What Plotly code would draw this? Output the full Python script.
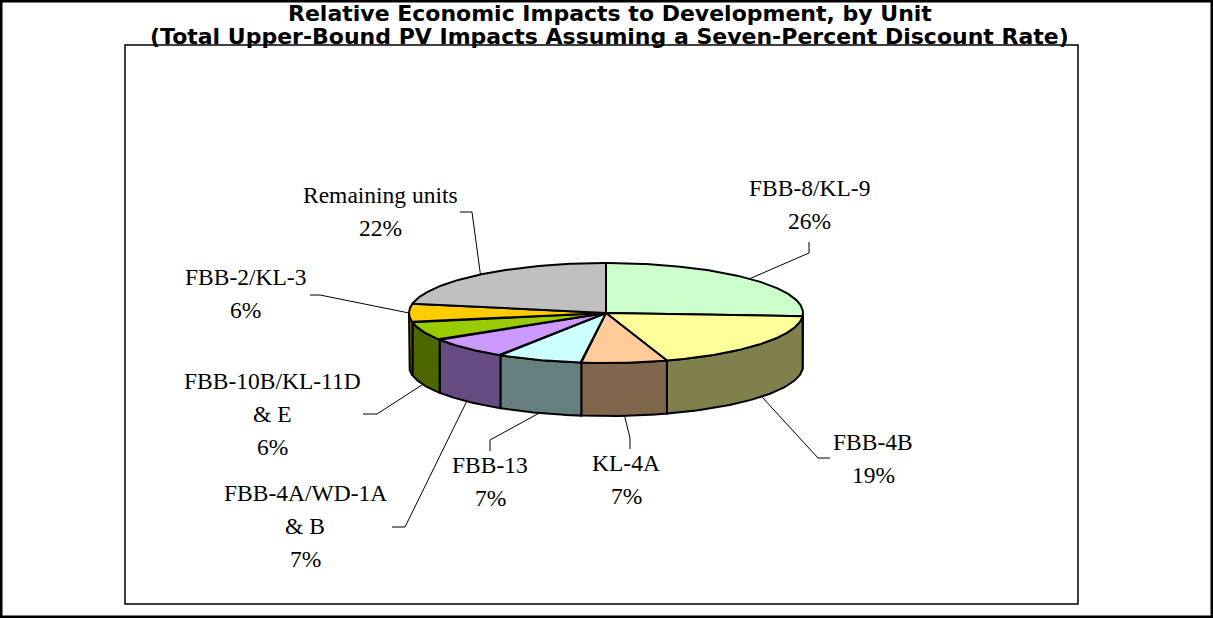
import numpy as np
import plotly.graph_objects as go

# ---------------- data ----------------
units = ["FBB-8/KL-9", "FBB-4B", "KL-4A", "FBB-13", "FBB-4A/WD-1A & B",
         "FBB-10B/KL-11D & E", "FBB-2/KL-3", "Remaining units"]
shares = [26, 19, 7, 7, 7, 6, 6, 22]          # percent of total PV impacts
top_colors = ["#CCFFCC", "#FFFF99", "#FFCC99", "#CCFFFF", "#CC99FF",
              "#99CC00", "#FFCC00", "#C0C0C0"]
side_colors = ["#668066", "#80804C", "#80664C", "#668080", "#664C80",
               "#4C6600", "#806600", "#606060"]
title_lines = ["Relative Economic Impacts to Development, by Unit",
               "(Total Upper-Bound PV Impacts Assuming a Seven-Percent Discount Rate)"]

# ---------------- layout / geometry (pixels) ----------------
W, H = 1213, 618
CX, CY, RA, RB, DEPTH = 606, 313, 197, 50, 53
START = 90.0   # first slice starts at 12 o'clock, clockwise
# label centre x, first-line y, elbow point, end point of leader
label_layout = [
    dict(x=809, y=188, ex=809, ey=253, tx=809, ty=242),
    dict(x=873, y=442, ex=818, ey=458, tx=830, ty=458),
    dict(x=626, y=463, ex=630, ey=438, tx=630, ty=449),
    dict(x=490, y=465, ex=490, ey=440, tx=490, ty=451),
    dict(x=305, y=493, ex=405, ey=527, tx=392, ty=527),
    dict(x=272, y=381, ex=377, ey=414, tx=363, ty=414),
    dict(x=245, y=277, ex=320, ey=295, tx=310, ty=295),
    dict(x=380, y=195, ex=472, ey=212, tx=460, ty=212),
]
LINE_GAP = 33
LABEL_FONT = dict(family="Liberation Serif, Times New Roman, serif", size=23.5, color="black")
TITLE_FONT = dict(family="DejaVu Sans, Arial, sans-serif", size=22, color="black", weight="bold")


def ell(theta_deg, drop=0.0):
    t = np.radians(theta_deg)
    return CX + RA * np.cos(t), CY - RB * np.sin(t) + drop


fig = go.Figure()

total = float(sum(shares))
bounds = []
a = START
for v in shares:
    b = a - 360.0 * v / total
    bounds.append((a, b))
    a = b

# side walls (front half: angles between -180 and 0)
for (s, e), col in zip(bounds, side_colors):
    hi, lo = min(s, 0.0), max(e, -180.0)
    if hi <= lo:
        continue
    th = np.linspace(hi, lo, 60)
    xt, yt = ell(th)
    xb, yb = ell(th[::-1], DEPTH)
    xs = np.concatenate([xt, xb, xt[:1]])
    ys = np.concatenate([yt, yb, yt[:1]])
    fig.add_trace(go.Scatter(x=xs, y=ys, mode="lines", fill="toself",
                             fillcolor=col, line=dict(color="black", width=2),
                             hoverinfo="skip", showlegend=False))

# top faces
for (s, e), col in zip(bounds, top_colors):
    th = np.linspace(s, e, 120)
    xa, ya = ell(th)
    xs = np.concatenate([[CX], xa, [CX]])
    ys = np.concatenate([[CY], ya, [CY]])
    fig.add_trace(go.Scatter(x=xs, y=ys, mode="lines", fill="toself",
                             fillcolor=col, line=dict(color="black", width=2),
                             hoverinfo="skip", showlegend=False))

# labels and leader lines
annotations = []
for name, v, (s, e), lay in zip(units, shares, bounds, label_layout):
    mid = (s + e) / 2.0
    m = ((mid + 180) % 360) - 180
    drop = DEPTH if (-180 < m < 0) else 0.0
    x0, y0 = ell(mid, drop)
    fig.add_trace(go.Scatter(x=[x0, lay["ex"], lay["tx"]], y=[y0, lay["ey"], lay["ty"]],
                             mode="lines", line=dict(color="black", width=1),
                             hoverinfo="skip", showlegend=False))
    parts = name.split(" & ")
    lines = [parts[0]] + ["& " + p for p in parts[1:]] + [f"{v}%"]
    for i, ln in enumerate(lines):
        annotations.append(dict(x=lay["x"], y=lay["y"] + i * LINE_GAP, text=ln,
                                xref="x", yref="y", showarrow=False,
                                font=LABEL_FONT, xanchor="center", yanchor="middle"))

for i, t in enumerate(title_lines):
    annotations.append(dict(x=W / 2 + 3, y=13 + i * 23, text=t, xref="x", yref="y",
                            showarrow=False, font=TITLE_FONT,
                            xanchor="center", yanchor="middle"))

shapes = [
    dict(type="rect", xref="paper", yref="paper", x0=0, y0=0, x1=1, y1=1,
         line=dict(color="black", width=5)),
    dict(type="rect", xref="x", yref="y", x0=125, y0=45, x1=1078, y1=604,
         line=dict(color="black", width=1.5)),
]

fig.update_layout(
    width=W, height=H, autosize=False,
    margin=dict(l=0, r=0, t=0, b=0, pad=0),
    paper_bgcolor="white", plot_bgcolor="white",
    xaxis=dict(range=[0, W], visible=False, fixedrange=True),
    yaxis=dict(range=[H, 0], visible=False, fixedrange=True),
    annotations=annotations, shapes=shapes, showlegend=False,
)

fig.write_html("out.html", config={"displayModeBar": False},
               post_script="document.body.style.margin='0px';document.body.style.overflow='hidden';")
